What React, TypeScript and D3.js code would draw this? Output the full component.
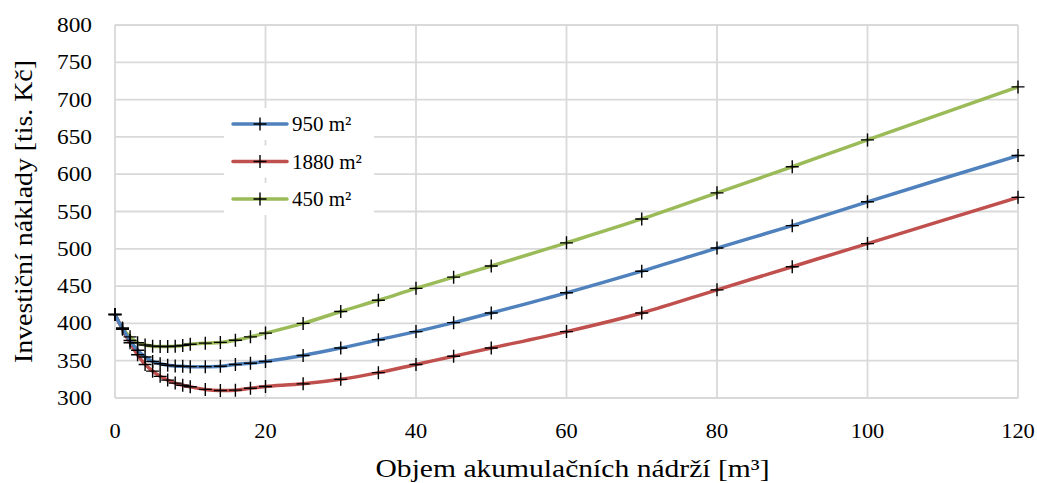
import React, { useEffect, useRef } from "react";
import * as d3 from "d3";

// volume of accumulation tanks [m3]
const volumes = [0, 1, 2, 3, 4, 5, 6, 7, 8, 9, 10, 12, 14, 16, 18, 20, 25, 30, 35, 40, 45, 50, 60, 70, 80, 90, 100, 120];

// investment cost [tis. Kč]
const cost950 = [412, 393, 377, 364, 355, 349, 346, 344, 343, 342.5, 342, 342, 342.5, 345, 346.5, 349, 357, 367, 378, 389, 401, 414, 441, 470, 501, 531, 563, 625];
const cost1880 = [412, 392, 374, 358, 345, 336, 329, 324, 320, 317, 315, 311.5, 310, 310.5, 313, 315.5, 319, 325, 334, 345, 356, 367, 389, 414, 445, 476, 507, 569];
const cost450 = [412, 394, 382, 374, 371, 369.5, 369, 369, 369.5, 370.5, 372, 373.5, 374.5, 377.5, 382, 387, 400, 416, 431, 447, 462, 477, 508, 540, 575, 610, 646, 717];

const seriesList = [
  { name: "950 m²", values: cost950, color: "#4f81bd" },
  { name: "1880 m²", values: cost1880, color: "#c0504d" },
  { name: "450 m²", values: cost450, color: "#9bbb59" },
];

const xTicks = [0, 20, 40, 60, 80, 100, 120];
const yTicks = [300, 350, 400, 450, 500, 550, 600, 650, 700, 750, 800];

const W = 1037;
const H = 483;
const FONT = "Liberation Serif, serif";

export default function App() {
  const svgRef = useRef<SVGSVGElement>(null);

  useEffect(() => {
    const svg = d3.select(svgRef.current);
    svg.selectAll("*").remove();

    const dims = { left: 115, right: 1018, top: 25, bottom: 398 };

    const xScale = d3.scaleLinear().domain([0, 120]).range([dims.left, dims.right]);
    const yScale = d3.scaleLinear().domain([300, 800]).range([dims.bottom, dims.top]);

    /** gridlines */
    const grid = svg.append("g").attr("class", "grid");
    grid.selectAll("line.h")
      .data(yTicks)
      .join("line")
      .attr("class", "h")
      .attr("x1", dims.left)
      .attr("x2", dims.right)
      .attr("y1", d => yScale(d))
      .attr("y2", d => yScale(d))
      .attr("stroke", "#d9d9d9")
      .attr("stroke-width", 1.8);
    grid.selectAll("line.v")
      .data(xTicks)
      .join("line")
      .attr("class", "v")
      .attr("x1", d => xScale(d))
      .attr("x2", d => xScale(d))
      .attr("y1", dims.top)
      .attr("y2", dims.bottom)
      .attr("stroke", "#d9d9d9")
      .attr("stroke-width", 1.8);

    /** tick labels */
    svg.append("g")
      .selectAll("text")
      .data(yTicks)
      .join("text")
      .attr("x", 92)
      .attr("y", d => yScale(d) + 7)
      .attr("text-anchor", "end")
      .attr("font-family", FONT)
      .attr("font-size", 22)
      .attr("textLength", 35)
      .attr("lengthAdjust", "spacingAndGlyphs")
      .text(d => d);

    svg.append("g")
      .selectAll("text")
      .data(xTicks)
      .join("text")
      .attr("x", d => xScale(d))
      .attr("y", 438)
      .attr("text-anchor", "middle")
      .attr("font-family", FONT)
      .attr("font-size", 22)
      .attr("textLength", d => String(d).length * 11.2)
      .attr("lengthAdjust", "spacingAndGlyphs")
      .text(d => d);

    /** axis titles */
    svg.append("text")
      .attr("x", (dims.left + dims.right) / 2 + 6)
      .attr("y", 477)
      .attr("text-anchor", "middle")
      .attr("font-family", FONT)
      .attr("font-size", 25)
      .attr("textLength", 394)
      .attr("lengthAdjust", "spacingAndGlyphs")
      .text("Objem akumulačních nádrží [m³]");

    svg.append("text")
      .attr("transform", `translate(32, ${(dims.top + dims.bottom) / 2}) rotate(-90)`)
      .attr("text-anchor", "middle")
      .attr("font-family", FONT)
      .attr("font-size", 25)
      .attr("textLength", 303)
      .attr("lengthAdjust", "spacingAndGlyphs")
      .text("Investiční náklady [tis. Kč]");

    /** lines */
    const line = d3.line<number>()
      .x((d, i) => xScale(volumes[i]))
      .y(d => yScale(d))
      .curve(d3.curveCatmullRom);

    const plus = (g: d3.Selection<SVGGElement, unknown, null, undefined>, px: number, py: number) => {
      g.append("path")
        .attr("d", `M${px - 6.5},${py}H${px + 6.5}M${px},${py - 6.5}V${py + 6.5}`)
        .attr("stroke", "#000")
        .attr("stroke-width", 1.4)
        .attr("fill", "none");
    };

    // green first, blue on top
    const linesGroup = svg.append("g");
    [2, 1, 0].forEach(k => {
      const s = seriesList[k];
      linesGroup.append("path")
        .datum(s.values)
        .attr("d", line)
        .attr("fill", "none")
        .attr("stroke", s.color)
        .attr("stroke-width", 3.5)
        .attr("stroke-linejoin", "round");
    });
    const markersGroup = svg.append("g") as d3.Selection<SVGGElement, unknown, null, undefined>;
    seriesList.forEach(s => {
      s.values.forEach((v, i) => plus(markersGroup, xScale(volumes[i]), yScale(v)));
    });

    /** legend */
    const legend = svg.append("g") as d3.Selection<SVGGElement, unknown, null, undefined>;
    seriesList.forEach((s, i) => {
      const ly = 124 + i * 37.5;
      legend.append("rect")
        .attr("x", 224)
        .attr("y", ly - 16)
        .attr("width", 150)
        .attr("height", 32)
        .attr("fill", "#fff");
      legend.append("line")
        .attr("x1", 233)
        .attr("x2", 287)
        .attr("y1", ly)
        .attr("y2", ly)
        .attr("stroke", s.color)
        .attr("stroke-width", 3.5)
        .attr("stroke-linecap", "round");
      plus(legend, 260, ly);
      legend.append("text")
        .attr("x", 292)
        .attr("y", ly + 7)
        .attr("font-family", FONT)
        .attr("font-size", 21)
        .text(s.name);
    });
  }, []);

  return (
    <div style={{ position: "absolute", left: 0, top: 0 }}>
      <svg ref={svgRef} width={W} height={H} style={{ display: "block", background: "#fff" }} />
    </div>
  );
}
